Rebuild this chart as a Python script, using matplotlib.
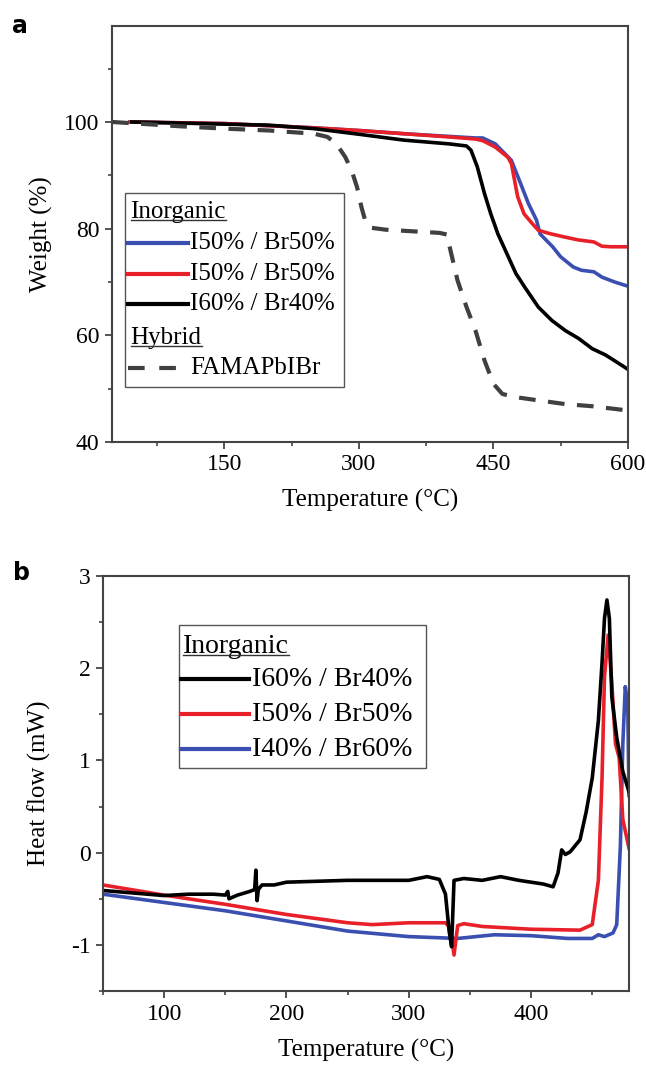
import matplotlib
matplotlib.use('Agg')
import matplotlib.pyplot as plt
from matplotlib.patches import Rectangle
from matplotlib.ticker import MultipleLocator

plt.rcParams['font.family'] = ['Liberation Serif', 'DejaVu Serif']
plt.rcParams['axes.unicode_minus'] = False

# ---------- panel a: TGA ----------
tga_blue_T = [45, 150, 250, 300, 350, 400, 430, 438, 452, 470, 479, 489, 498, 502, 516, 525, 539, 548, 562, 571, 585, 600]
tga_blue_W = [100, 99.7, 98.9, 98.4, 97.8, 97.3, 97.0, 97.0, 95.9, 92.8, 89.0, 84.7, 81.6, 79.0, 76.6, 74.7, 72.8, 72.2, 71.9, 70.9, 70.0, 69.2]

tga_red_T = [45, 150, 250, 300, 350, 400, 430, 438, 452, 466, 470, 477, 484, 493, 500, 512, 530, 544, 562, 571, 581, 600]
tga_red_W = [100, 99.7, 98.9, 98.4, 97.8, 97.2, 96.8, 96.5, 95.3, 93.4, 92.2, 86.0, 82.8, 81.0, 79.7, 79.1, 78.4, 77.9, 77.5, 76.7, 76.6, 76.6]

tga_black_T = [47, 150, 200, 250, 300, 350, 400, 420, 425, 432, 440, 447, 455, 465, 475, 485, 500, 515, 530, 545, 560, 575, 590, 600]
tga_black_W = [100, 99.6, 99.4, 98.75, 97.7, 96.6, 95.9, 95.5, 94.7, 91.6, 86.6, 82.8, 79.0, 75.3, 71.6, 69.0, 65.3, 62.8, 60.9, 59.4, 57.5, 56.3, 54.7, 53.6]

tga_hyb_T = [25, 100, 150, 200, 250, 265, 275, 285, 292, 298, 303, 307, 312, 330, 360, 390, 398, 403, 410, 420, 430, 440, 450, 460, 475, 500, 530, 560, 600]
tga_hyb_W = [100, 99.2, 98.75, 98.4, 97.8, 97.2, 95.9, 93.4, 90.9, 87.8, 84.0, 81.6, 80.2, 79.8, 79.5, 79.2, 78.9, 75.3, 70.3, 65.3, 60.9, 55.3, 50.9, 49.0, 48.4, 47.8, 47.1, 46.7, 45.9]

# ---------- panel b: DSC ----------
dsc_black_T = [50, 100, 120, 140, 150, 152, 153, 160, 170, 174, 175, 176, 177, 180, 190, 200, 250, 300, 315, 325, 330, 333, 335, 337, 345, 360, 375, 390, 410, 418, 422, 425, 428, 432, 440, 445, 450, 455, 458, 460, 462, 464, 466, 470, 475, 480]
dsc_black_H = [-0.41, -0.465, -0.45, -0.45, -0.46, -0.42, -0.50, -0.46, -0.42, -0.40, -0.19, -0.52, -0.40, -0.35, -0.35, -0.32, -0.30, -0.30, -0.26, -0.29, -0.45, -0.85, -1.02, -0.30, -0.28, -0.30, -0.26, -0.30, -0.34, -0.37, -0.22, 0.03, -0.02, 0.01, 0.14, 0.44, 0.81, 1.43, 2.06, 2.54, 2.74, 2.54, 1.69, 1.25, 0.88, 0.66]

dsc_red_T = [50, 100, 150, 200, 250, 270, 300, 330, 334, 337, 340, 345, 360, 400, 440, 450, 455, 458, 460, 463, 466, 469, 472, 475, 480]
dsc_red_H = [-0.35, -0.46, -0.56, -0.67, -0.76, -0.78, -0.76, -0.76, -0.82, -1.11, -0.79, -0.77, -0.80, -0.83, -0.84, -0.78, -0.30, 0.81, 1.91, 2.36, 1.84, 1.18, 1.03, 0.36, 0.05]

dsc_blue_T = [50, 100, 150, 200, 250, 300, 340, 370, 400, 430, 450, 455, 460, 467, 470, 473, 475, 477, 479, 480]
dsc_blue_H = [-0.45, -0.54, -0.63, -0.74, -0.85, -0.91, -0.93, -0.89, -0.90, -0.93, -0.93, -0.89, -0.91, -0.87, -0.78, 0.07, 1.18, 1.80, 1.62, 0.62]

BLUE = '#3a4fb0'
RED = '#e8202a'
BLACK = '#000000'
GREY = '#404040'

fig = plt.figure(figsize=(6.46, 10.73), dpi=100)
ax1 = fig.add_axes([0.1734, 0.5881, 0.7988, 0.3877])
ax2 = fig.add_axes([0.1594, 0.0764, 0.8142, 0.3868])

lw = 2.6
ax1.plot(tga_blue_T, tga_blue_W, color=BLUE, lw=lw)
ax1.plot(tga_red_T, tga_red_W, color=RED, lw=lw)
ax1.plot(tga_black_T, tga_black_W, color=BLACK, lw=lw)
ax1.plot(tga_hyb_T, tga_hyb_W, color=GREY, lw=3, dashes=(4, 3))

ax2.plot(dsc_blue_T, dsc_blue_H, color=BLUE, lw=lw)
ax2.plot(dsc_red_T, dsc_red_H, color=RED, lw=lw)
ax2.plot(dsc_black_T, dsc_black_H, color=BLACK, lw=lw)

ax1.set_xlim(25, 600)
ax1.set_ylim(40, 118)
ax1.xaxis.set_major_locator(MultipleLocator(150))
ax1.xaxis.set_minor_locator(MultipleLocator(75))
ax1.yaxis.set_major_locator(MultipleLocator(20))
ax1.yaxis.set_minor_locator(MultipleLocator(10))
ax1.set_xticks([150, 300, 450, 600])

ax2.set_xlim(50, 480)
ax2.set_ylim(-1.5, 3)
ax2.xaxis.set_major_locator(MultipleLocator(100))
ax2.xaxis.set_minor_locator(MultipleLocator(50))
ax2.yaxis.set_major_locator(MultipleLocator(1))
ax2.yaxis.set_minor_locator(MultipleLocator(0.5))

for ax in (ax1, ax2):
    for s in ax.spines.values():
        s.set_color('#444444')
        s.set_linewidth(1.5)
    ax.tick_params(which='major', direction='out', length=5, width=1.3, color='#444444', labelsize=17, pad=4)
    ax.tick_params(which='minor', direction='out', length=3, width=1.2, color='#444444')

ax1.set_xlabel('Temperature (°C)', fontsize=18, labelpad=10)
ax1.set_ylabel('Weight (%)', fontsize=18, labelpad=8)
ax2.set_xlabel('Temperature (°C)', fontsize=18, labelpad=10)
ax2.set_ylabel('Heat flow (mW)', fontsize=18, labelpad=14)

fig.text(0.018, 0.976, 'a', fontsize=17, fontweight='bold', family='DejaVu Sans', va='center')
fig.text(0.02, 0.466, 'b', fontsize=17, fontweight='bold', family='DejaVu Sans', va='center')


def draw_legend(ax, box, rows, hx, tx, fs):
    # box: (x0, y0, x1, y1) in axes fraction; rows: list of (y, label, style or None)
    ax.add_patch(Rectangle((box[0], box[1]), box[2] - box[0], box[3] - box[1],
                           transform=ax.transAxes, fill=True, facecolor='white',
                           edgecolor='#555555', lw=1.0, zorder=5))
    headers = []
    for y, label, style in rows:
        if style is None:
            t = ax.text(hx[0] + 0.005, y, label, transform=ax.transAxes, fontsize=fs,
                        va='center', ha='left', zorder=6)
            headers.append(t)
        else:
            ax.plot(hx, [y, y], transform=ax.transAxes, zorder=6, **style)
            ax.text(tx, y, label, transform=ax.transAxes, fontsize=fs,
                    va='center', ha='left', zorder=6)
    return headers


leg_a = [
    (0.553, 'Inorganic', None),
    (0.478, 'I50% / Br50%', dict(color=BLUE, lw=3)),
    (0.404, 'I50% / Br50%', dict(color=RED, lw=3)),
    (0.332, 'I60% / Br40%', dict(color=BLACK, lw=3)),
    (0.250, 'Hybrid', None),
    (0.178, 'FAMAPbIBr', dict(color=GREY, lw=3, dashes=(4, 3.5))),
]
hdr_a = draw_legend(ax1, (0.025, 0.132, 0.450, 0.599), leg_a, [0.031, 0.147], 0.152, 18)

leg_b = [
    (0.831, 'Inorganic', None),
    (0.751, 'I60% / Br40%', dict(color=BLACK, lw=3)),
    (0.667, 'I50% / Br50%', dict(color=RED, lw=3)),
    (0.583, 'I40% / Br60%', dict(color=BLUE, lw=3)),
]
hdr_b = draw_legend(ax2, (0.144, 0.537, 0.614, 0.882), leg_b, [0.148, 0.278], 0.283, 20)

# underline the header texts
fig.canvas.draw()
for ax, hdrs in ((ax1, hdr_a), (ax2, hdr_b)):
    inv = ax.transAxes.inverted()
    for t in hdrs:
        bb = t.get_window_extent()
        (x0, y0), (x1, y1) = inv.transform([[bb.x0, bb.y0], [bb.x1, bb.y1]])
        ax.plot([x0, x1], [y0 + 0.008, y0 + 0.008], transform=ax.transAxes,
                color='#333333', lw=1.0, zorder=6)

fig.savefig('out.png', dpi=100)
